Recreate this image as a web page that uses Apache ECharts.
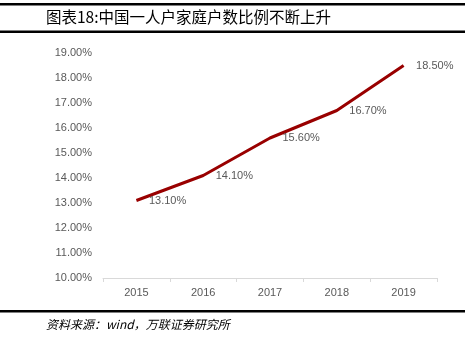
<!DOCTYPE html>
<html><head><meta charset="utf-8">
<script src="https://cdn.jsdelivr.net/npm/echarts@6/dist/echarts.min.js"></script>
<style>html,body{margin:0;padding:0;background:#fff}#c{width:475px;height:338px}</style>
</head><body><div id="c"></div>
<script>
const title = '图表18:中国一人户家庭户数比例不断上升';
const source = '资料来源：wind，万联证券研究所';
const categories = ['2015','2016','2017','2018','2019'];
const values = [13.1, 14.1, 15.6, 16.7, 18.5];
const yMin = 10, yMax = 19, yStep = 1;

const chart = echarts.init(document.getElementById('c'), null, {renderer:'canvas'});
chart.setOption({
  animation:false,
  backgroundColor:'#fff',
  grid:{left:103, right:38, top:53, bottom:60, containLabel:false},
  xAxis:{type:'category', data:categories, boundaryGap:true,
    axisLine:{lineStyle:{color:'#d9d9d9', width:1}},
    axisTick:{show:true, alignWithLabel:false, length:4, lineStyle:{color:'#d9d9d9'}},
    axisLabel:{color:'#595959', fontSize:11, margin:9, fontFamily:'Arial, Liberation Sans, sans-serif'}},
  yAxis:{type:'value', min:yMin, max:yMax, interval:yStep,
    axisLine:{show:false}, axisTick:{show:false}, splitLine:{show:false},
    axisLabel:{color:'#595959', fontSize:11, margin:11, fontFamily:'Arial, Liberation Sans, sans-serif',
      formatter:v=>v.toFixed(2)+'%'}},
  series:[{type:'line', data:values, symbol:'circle', symbolSize:1, showSymbol:true, smooth:false,
    itemStyle:{color:'rgba(0,0,0,0)'},
    lineStyle:{color:'#990000', width:3},
    label:{show:true, position:'right', distance:12, color:'#595959', fontSize:11,
      fontFamily:'Arial, Liberation Sans, sans-serif', formatter:p=>p.value.toFixed(2)+'%'}}],
  graphic:[
    {type:'rect', shape:{x:0,y:3,width:465,height:2.5}, style:{fill:'#000'}},
    {type:'rect', shape:{x:0,y:30.5,width:465,height:2.5}, style:{fill:'#000'}},
    {type:'rect', shape:{x:0,y:310,width:465,height:2.5}, style:{fill:'#000'}},
    {type:'text', left:46, top:9, style:{text:title, fontSize:15.5, fill:'#000', fontFamily:'Noto Sans CJK SC'}},
    {type:'text', left:46, top:318, style:{text:source, fontSize:12, fill:'#000', fontStyle:'italic', fontFamily:'Noto Sans CJK SC'}}
  ]
});
</script></body></html>
